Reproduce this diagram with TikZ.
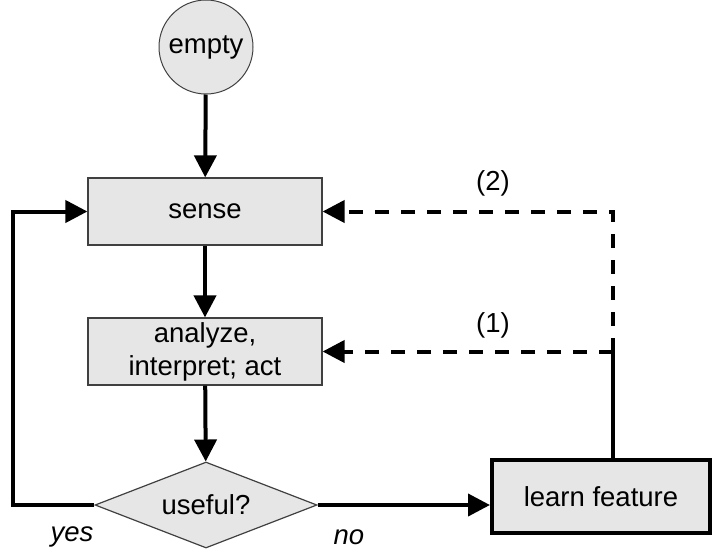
\documentclass[tikz,border=0pt]{standalone}
\usepackage{fontspec}
\setmainfont{Liberation Sans}
\usetikzlibrary{arrows.meta,shapes.geometric}
\definecolor{boxfill}{HTML}{E6E6E6}
\definecolor{boxline}{HTML}{404040}
\tikzset{
  txt/.style={font=\fontsize{27.5}{33}\selectfont},
  circnode/.style={txt,circle,draw=boxline,line width=1pt,fill=boxfill,minimum size=94pt,inner sep=0pt},
  stepbox/.style={txt,rectangle,draw=boxline,line width=1.2pt,fill=boxfill,minimum width=234pt,minimum height=67pt,align=center,inner sep=0pt},
  decbox/.style={txt,diamond,draw=boxline,line width=1.2pt,fill=boxfill,minimum width=222pt,minimum height=86pt,aspect=2.58,inner sep=0pt},
  learnbox/.style={txt,rectangle,draw=black,line width=4pt,fill=boxfill,minimum width=218pt,minimum height=73pt,inner sep=0pt},
  conn/.style={line width=4pt,-{Triangle[length=22pt,width=22pt]}},
  plainline/.style={line width=4pt},
  dashconn/.style={line width=4pt,dash pattern=on 14pt off 12pt,-{Triangle[length=22pt,width=22pt]}},
  lbl/.style={txt,inner sep=0pt},
}
\begin{document}
\begin{tikzpicture}[x=1pt,y=-1pt]
\useasboundingbox (0,0) rectangle (724,558);
\node[circnode] (empty) at (206,47) {empty};
\node[stepbox] (sense) at (205,211.5) {sense};
\node[stepbox] (analyze) at (205,351.5) {analyze,\\interpret; act};
\node[decbox] (useful) at (206,505) {useful?};
\node[learnbox] (learn) at (601,496.5) {learn feature};
\coordinate (lc) at (13,505);
\coordinate (j1) at (613,351.5);
\coordinate (j2) at (613,211.5);
\draw[conn] (empty) -- (sense);
\draw[conn] (sense) -- (analyze);
\draw[conn] (analyze) -- (useful);
\draw[conn] (useful.east) -- (useful.east -| learn.west);
\draw[conn] (useful.west) -- (lc) |- (sense.west);
\draw[plainline] (j1 |- learn.north) -- (j1);
\draw[dashconn] (j1) -- (analyze.east);
\draw[dashconn] (j1) -- (j2) -- (sense.east);
\node[lbl] (l2) at (493,183) {(2)};
\node[lbl] (l1) at (493,325) {(1)};
\node[lbl] (yes) at (72,537) {\itshape yes};
\node[lbl] (no) at (349,537) {\itshape no};
\end{tikzpicture}
\end{document}
